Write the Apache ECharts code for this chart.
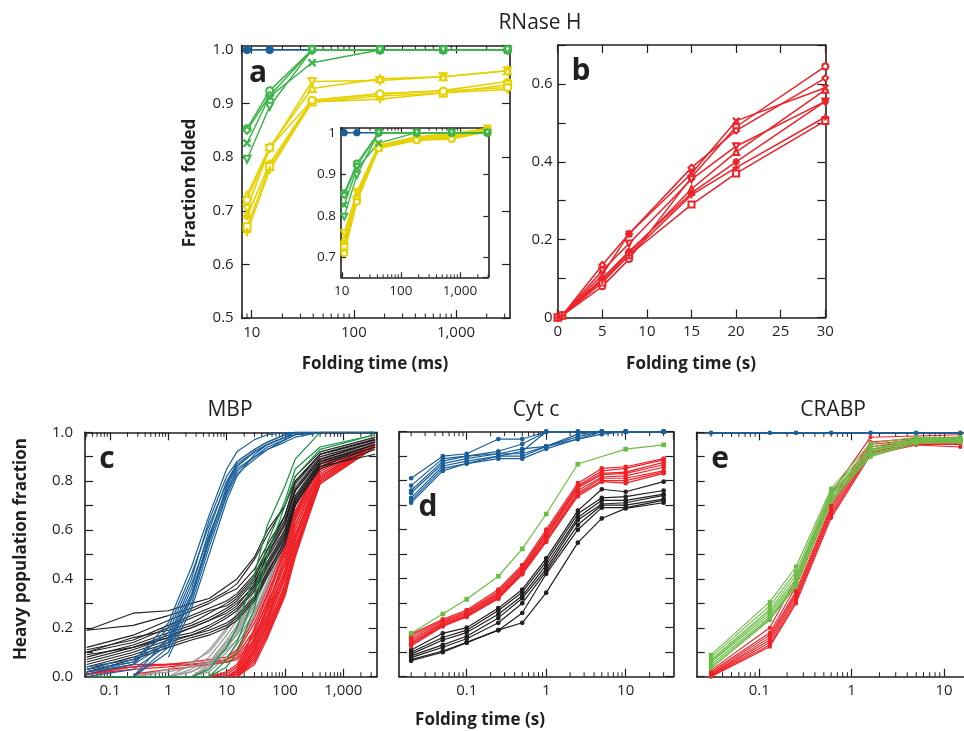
<!DOCTYPE html>
<html>
<head>
<meta charset="utf-8">
<script src="https://cdn.jsdelivr.net/npm/echarts@6/dist/echarts.min.js"></script>
<style>
  html, body { margin: 0; padding: 0; background: #fff; }
  #chart { width: 964px; height: 731px; }
</style>
</head>
<body>
<div id="chart"></div>
<script>
// ---- data ----
// a: RNase H, fraction folded vs folding time (ms)
const A_TIME = [9, 15, 39, 180, 750, 3200];
const A_BLUE = [[1, 1, 1, 1, 1, 1]];
const A_GREEN = [
  [0.853, 0.924, 1, 1, 1, 1],
  [0.850, 0.915, 1, 1, 1, 1],
  [0.826, 0.913, 0.976, 1, 1, 1],
  [0.796, 0.895, 1, 1, 1, 1]
];
const A_YELLOW = [
  [0.704, 0.816, 0.941, 0.943, 0.950, 0.961],
  [0.729, 0.819, 0.928, 0.946, 0.950, 0.961],
  [0.690, 0.788, 0.906, 0.918, 0.924, 0.941],
  [0.670, 0.782, 0.903, 0.914, 0.919, 0.935],
  [0.660, 0.776, 0.903, 0.908, 0.920, 0.926],
  [0.720, 0.818, 0.906, 0.918, 0.923, 0.930]
];
// a inset
const INSET_TIME = [11, 18, 42, 185, 720, 2900];
const INSET_BLUE = [[1, 1, 1, 1, 1, 1]];
const INSET_GREEN = [
  [0.854, 0.926, 1, 1, 1, 1],
  [0.850, 0.920, 1, 1, 1, 1],
  [0.826, 0.914, 0.975, 1, 1, 1],
  [0.798, 0.898, 1, 1, 1, 1]
];
const INSET_YELLOW = [
  [0.758, 0.858, 0.970, 0.990, 0.998, 1.010],
  [0.745, 0.852, 0.968, 0.988, 0.995, 1.008],
  [0.735, 0.846, 0.966, 0.985, 0.992, 1.005],
  [0.725, 0.840, 0.964, 0.984, 0.990, 1.004],
  [0.715, 0.836, 0.963, 0.983, 0.988, 1.003],
  [0.710, 0.834, 0.962, 0.982, 0.985, 1.002]
];
// b: RNase H, folding time (s)
const B_TIME = [0, 0.5, 5, 8, 15, 20, 30];
const B_RED = [
  [0, 0.005, 0.080, 0.150, 0.360, 0.490, 0.645],
  [0, 0.005, 0.135, 0.215, 0.385, 0.480, 0.615],
  [0, 0.005, 0.110, 0.215, 0.370, 0.505, 0.590],
  [0, 0.005, 0.120, 0.190, 0.355, 0.440, 0.555],
  [0, 0.005, 0.100, 0.165, 0.330, 0.425, 0.585],
  [0, 0.005, 0.100, 0.170, 0.320, 0.400, 0.555],
  [0, 0.005, 0.090, 0.160, 0.290, 0.370, 0.505],
  [0, 0.005, 0.095, 0.160, 0.315, 0.385, 0.515]
];
// c: MBP
const MBP_TIME = [0.04, 0.25, 1, 2.5, 5, 10, 15, 30, 50, 100, 150, 400, 3500];
const MBP_GRAY = [
  [null, 0, 0.03, 0.06, 0.10, 0.19, 0.25, 0.37, 0.49, 0.65, 0.77, 0.91, 0.98],
  [null, null, 0, 0.03, 0.08, 0.17, 0.23, 0.35, 0.47, 0.63, 0.76, 0.90, 0.98],
  [null, null, 0, 0.02, 0.06, 0.15, 0.21, 0.33, 0.45, 0.61, 0.74, 0.90, 0.97],
  [null, null, null, 0, 0.05, 0.14, 0.19, 0.31, 0.43, 0.60, 0.73, 0.89, 0.97],
  [null, null, null, 0, 0.04, 0.12, 0.17, 0.29, 0.41, 0.58, 0.72, 0.89, 0.97],
  [null, null, null, 0, 0.03, 0.10, 0.15, 0.27, 0.39, 0.57, 0.71, 0.88, 0.97],
  [null, 0, 0.02, 0.04, 0.06, 0.11, 0.15, 0.26, 0.38, 0.56, 0.70, 0.88, 0.96],
  [null, null, null, 0, 0.02, 0.08, 0.13, 0.25, 0.37, 0.55, 0.70, 0.87, 0.96],
  [null, null, 0, 0.05, 0.11, 0.20, 0.26, 0.38, 0.50, 0.66, 0.78, 0.91, 0.98],
  [null, null, null, 0, 0.04, 0.13, 0.20, 0.32, 0.44, 0.61, 0.74, 0.89, 0.97],
  [null, null, 0, 0.02, 0.05, 0.12, 0.18, 0.30, 0.42, 0.59, 0.73, 0.89, 0.97]
];
const MBP_RED = [
  [0.01, 0.04, 0.05, 0.05, 0.05, 0.06, 0.08, 0.17, 0.27, 0.43, 0.58, 0.82, 0.96],
  [0.02, 0.04, 0.05, 0.05, 0.06, 0.07, 0.09, 0.19, 0.30, 0.46, 0.62, 0.85, 0.97],
  [0.01, 0.03, 0.04, 0.05, 0.05, 0.06, 0.07, 0.15, 0.25, 0.41, 0.56, 0.81, 0.95],
  [null, 0.01, 0.03, 0.04, 0.05, 0.07, 0.10, 0.22, 0.34, 0.51, 0.66, 0.86, 0.97],
  [0.01, 0.05, 0.05, 0.06, 0.07, 0.08, 0.11, 0.24, 0.36, 0.54, 0.68, 0.87, 0.97],
  [null, null, null, null, 0, 0.02, 0.05, 0.18, 0.31, 0.52, 0.66, 0.88, 0.98],
  [null, null, null, null, 0, 0.01, 0.04, 0.16, 0.29, 0.48, 0.64, 0.85, 0.97],
  [null, null, null, null, null, 0, 0.02, 0.14, 0.27, 0.46, 0.62, 0.85, 0.97],
  [null, null, null, null, null, 0, 0.01, 0.12, 0.25, 0.44, 0.60, 0.84, 0.96],
  [null, null, null, null, null, 0, 0.01, 0.11, 0.23, 0.42, 0.58, 0.83, 0.96],
  [null, null, null, null, null, null, 0, 0.10, 0.22, 0.40, 0.56, 0.82, 0.95],
  [null, null, null, null, null, null, 0, 0.09, 0.20, 0.38, 0.54, 0.81, 0.95],
  [null, null, null, null, null, null, 0, 0.08, 0.19, 0.36, 0.52, 0.80, 0.94],
  [null, null, null, null, null, null, 0, 0.06, 0.18, 0.35, 0.50, 0.79, 0.94],
  [null, null, null, null, null, null, 0, 0.05, 0.16, 0.33, 0.49, 0.80, 0.95],
  [null, null, null, null, null, 0, 0.03, 0.15, 0.28, 0.50, 0.65, 0.87, 0.98],
  [null, null, null, null, null, 0, 0.02, 0.13, 0.24, 0.41, 0.57, 0.82, 0.95],
  [null, null, null, null, null, null, 0, 0.11, 0.21, 0.37, 0.53, 0.80, 0.94],
  [null, null, null, null, null, 0, 0.02, 0.20, 0.33, 0.53, 0.67, 0.88, 0.98],
  [null, null, null, null, null, null, 0, 0.07, 0.17, 0.34, 0.51, 0.79, 0.94]
];
const MBP_BLACK = [
  [0.19, 0.26, 0.27, 0.30, 0.32, 0.37, 0.40, 0.49, 0.60, 0.70, 0.80, 0.91, 0.97],
  [0.19, 0.21, 0.25, 0.28, 0.31, 0.35, 0.38, 0.48, 0.58, 0.70, 0.82, 0.92, 0.98],
  [0.12, 0.17, 0.23, 0.27, 0.30, 0.34, 0.36, 0.44, 0.54, 0.66, 0.79, 0.91, 0.97],
  [0.11, 0.15, 0.21, 0.25, 0.28, 0.31, 0.34, 0.42, 0.52, 0.64, 0.77, 0.90, 0.96],
  [0.10, 0.16, 0.19, 0.22, 0.26, 0.30, 0.33, 0.41, 0.50, 0.62, 0.76, 0.89, 0.96],
  [0.08, 0.13, 0.18, 0.21, 0.24, 0.28, 0.31, 0.39, 0.49, 0.60, 0.74, 0.88, 0.95],
  [0.07, 0.12, 0.16, 0.20, 0.23, 0.27, 0.30, 0.37, 0.47, 0.59, 0.73, 0.87, 0.95],
  [0.06, 0.11, 0.16, 0.18, 0.21, 0.25, 0.28, 0.36, 0.46, 0.58, 0.72, 0.86, 0.94],
  [0.05, 0.10, 0.15, 0.17, 0.20, 0.24, 0.27, 0.35, 0.45, 0.57, 0.71, 0.85, 0.93],
  [0.04, 0.09, 0.14, 0.17, 0.19, 0.22, 0.25, 0.33, 0.43, 0.55, 0.70, 0.86, 0.91],
  [0.03, 0.08, 0.13, 0.16, 0.18, 0.21, 0.24, 0.32, 0.42, 0.56, 0.72, 0.88, 0.95],
  [0.02, 0.07, 0.12, 0.15, 0.17, 0.20, 0.23, 0.31, 0.41, 0.54, 0.70, 0.87, 0.94],
  [0.10, 0.14, 0.20, 0.24, 0.27, 0.29, 0.32, 0.40, 0.52, 0.66, 0.80, 0.91, 0.97],
  [0.09, 0.12, 0.17, 0.20, 0.23, 0.26, 0.29, 0.38, 0.50, 0.63, 0.76, 0.89, 0.96]
];
const MBP_GREEN = [
  [0, 0, 0, 0, 0.03, 0.12, 0.20, 0.42, 0.62, 0.78, 0.89, 1.00, 1.00],
  [0, 0, 0, 0, 0, 0.07, 0.14, 0.33, 0.55, 0.72, 0.85, 0.94, 0.99],
  [0, 0, 0, 0, 0, 0.04, 0.10, 0.28, 0.50, 0.70, 0.82, 0.93, 0.99]
];
const MBP_BLUE = [
  [0.04, 0.07, 0.18, 0.40, 0.64, 0.82, 0.88, 0.93, 0.96, 0.99, 1.00, 1.00, 1.00],
  [0.03, 0.06, 0.15, 0.36, 0.60, 0.80, 0.87, 0.92, 0.95, 0.98, 1.00, 1.00, 1.00],
  [0.02, 0.05, 0.14, 0.34, 0.57, 0.77, 0.86, 0.92, 0.95, 0.98, 0.99, 1.00, 1.00],
  [null, 0, 0.12, 0.32, 0.55, 0.75, 0.85, 0.90, 0.94, 0.97, 0.99, 1.00, 1.00],
  [null, 0, 0.10, 0.30, 0.53, 0.74, 0.83, 0.89, 0.93, 0.97, 0.99, 1.00, 1.00],
  [null, null, 0.08, 0.28, 0.50, 0.72, 0.82, 0.91, 0.95, 0.98, 1.00, 1.00, 1.00],
  [0.01, 0.05, 0.20, 0.42, 0.62, 0.79, 0.86, 0.92, 0.95, 0.98, 1.00, 1.00, 1.00],
  [0.02, 0.06, 0.22, 0.45, 0.66, 0.85, 0.92, 0.97, 0.99, 1.00, 1.00, 1.00, 1.00],
  [null, 0, 0.16, 0.38, 0.58, 0.76, 0.84, 0.90, 0.93, 0.96, 0.98, 1.00, 1.00],
  [0, 0.03, 0.13, 0.33, 0.56, 0.78, 0.88, 0.93, 0.96, 0.99, 1.00, 1.00, 1.00]
];
// d: Cyt c
const CYT_TIME = [0.02, 0.05, 0.1, 0.25, 0.5, 1, 2.5, 5, 10, 30];
const CYT_BLUE = [
  [0.81, 0.90, 0.91, 0.97, 0.97, 1.00, 1.00, 1.00, 1.00, 1.00],
  [0.78, 0.89, 0.90, 0.92, 0.95, 1.00, 1.00, 1.00, 1.00, 1.00],
  [0.76, 0.88, 0.90, 0.91, 0.93, 0.94, 0.99, 1.00, 1.00, 1.00],
  [0.75, 0.87, 0.89, 0.91, 0.91, 0.94, 0.98, 1.00, 1.00, 1.00],
  [0.73, 0.86, 0.88, 0.90, 0.90, 0.94, 0.97, 1.00, 1.00, 1.00],
  [0.72, 0.85, 0.87, 0.89, 0.89, 0.93, 0.97, 0.99, 1.00, 1.00],
  [0.71, 0.84, 0.87, 0.90, 0.92, 1.00, 1.00, 1.00, 1.00, 1.00]
];
const CYT_GREEN = [[0.177, 0.256, 0.316, 0.410, 0.522, 0.664, 0.868, null, 0.929, 0.946]];
const CYT_RED = [
  [0.174, 0.234, 0.272, 0.356, 0.456, 0.600, 0.790, 0.850, 0.857, 0.890],
  [0.168, 0.228, 0.266, 0.348, 0.448, 0.590, 0.780, 0.840, 0.850, 0.885],
  [0.160, 0.222, 0.262, 0.342, 0.442, 0.585, 0.775, 0.830, 0.835, 0.875],
  [0.152, 0.218, 0.258, 0.336, 0.436, 0.575, 0.770, 0.825, 0.830, 0.865],
  [0.145, 0.214, 0.253, 0.330, 0.430, 0.570, 0.760, 0.815, 0.820, 0.855],
  [0.138, 0.210, 0.250, 0.325, 0.425, 0.560, 0.750, 0.810, 0.810, 0.840],
  [0.132, 0.208, 0.247, 0.322, 0.422, 0.555, 0.745, 0.800, 0.800, 0.835],
  [0.125, 0.205, 0.244, 0.318, 0.418, 0.550, 0.737, 0.796, 0.790, 0.830]
];
const CYT_BLACK = [
  [0.109, 0.177, 0.200, 0.280, 0.356, 0.483, 0.678, 0.765, 0.755, 0.796],
  [0.100, 0.160, 0.190, 0.270, 0.345, 0.470, 0.665, 0.730, 0.735, 0.760],
  [0.092, 0.150, 0.180, 0.255, 0.330, 0.455, 0.650, 0.720, 0.720, 0.745],
  [0.085, 0.130, 0.165, 0.240, 0.320, 0.440, 0.640, 0.705, 0.710, 0.740],
  [0.078, 0.120, 0.155, 0.220, 0.300, 0.430, 0.620, 0.700, 0.700, 0.725],
  [0.070, 0.105, 0.140, 0.190, 0.260, 0.420, 0.600, 0.690, 0.690, 0.720],
  [0.065, 0.100, 0.139, 0.190, 0.220, 0.343, 0.547, 0.646, 0.687, 0.710]
];
// e: CRABP
const CRABP_TIME = [0.03, 0.13, 0.25, 0.6, 1.6, 5, 15];
const CRABP_BLUE = [[0.998, 0.998, 0.998, 0.998, 0.998, 0.998, 0.998]];
const CRABP_RED = [
  [0.027, 0.200, 0.400, 0.750, 0.980, 0.985, 0.990],
  [0.020, 0.180, 0.370, 0.720, 0.960, 0.975, 0.980],
  [0.015, 0.170, 0.350, 0.700, 0.950, 0.970, 0.970],
  [0.010, 0.160, 0.340, 0.690, 0.940, 0.965, 0.965],
  [0.008, 0.150, 0.330, 0.680, 0.930, 0.960, 0.960],
  [0.005, 0.140, 0.320, 0.670, 0.920, 0.955, 0.955],
  [0.003, 0.130, 0.310, 0.660, 0.915, 0.950, 0.950],
  [0.000, 0.123, 0.300, 0.650, 0.907, 0.948, 0.940]
];
const CRABP_GREEN = [
  [0.089, 0.306, 0.450, 0.770, 0.955, 0.980, 0.980],
  [0.080, 0.290, 0.430, 0.760, 0.940, 0.975, 0.975],
  [0.070, 0.275, 0.415, 0.750, 0.930, 0.970, 0.970],
  [0.065, 0.265, 0.400, 0.745, 0.925, 0.970, 0.965],
  [0.060, 0.255, 0.390, 0.740, 0.920, 0.965, 0.965],
  [0.050, 0.245, 0.380, 0.730, 0.910, 0.960, 0.960],
  [0.040, 0.238, 0.375, 0.725, 0.905, 0.960, 0.965],
  [0.034, 0.232, 0.370, 0.716, 0.900, 0.955, 0.960]
];

// ---- look ----
const FONT = '"Open Sans", "Noto Sans", sans-serif';
const INK = '#231f20';
const BLUE = '#1b5f99';
const GREEN = '#3db54a';
const DKGREEN = '#13953f';
const LTGREEN = '#6cbd45';
const YELLOW = '#e6d200';
const RED = '#ee2228';
const GRAY = '#999999';

// grid index: 0 a, 1 inset, 2 b, 3 c, 4 d, 5 e
const GRIDS = [
  { left: 241.7, top: 45.6, width: 268.3, height: 272.4 },
  { left: 341, top: 127.7, width: 147.3, height: 149.6 },
  { left: 557.7, top: 45, width: 267.6, height: 272.5 },
  { left: 85, top: 432.3, width: 291.7, height: 244.4 },
  { left: 399, top: 431.7, width: 274.3, height: 245 },
  { left: 696.7, top: 432.3, width: 290, height: 244.4 }
];
const X_RANGE = [[7.98, 3380], [9.7, 3008], [0, 30], [0.0373, 3737], [0.01407, 39.7], [0.021, 29]];
const Y_RANGE = [[0.5, 1.008], [0.652, 1.012], [0, 0.7], [0, 1], [0, 1], [0, 1]];
const LOG_GRIDS = [0, 1, 3, 4, 5];

const SYM_X = 'path://M0,1L1,0L5,4L9,0L10,1L6,5L10,9L9,10L5,6L1,10L0,9L4,5Z';
const SYM_PLUS = 'path://M4.3,0H5.7V4.3H10V5.7H5.7V10H4.3V5.7H0V4.3H4.3Z';
const SYM_STAR = 'path://M4.4,0H5.6V3.6L8.1,1.1L8.9,1.9L6.4,4.4H10V5.6H6.4L8.9,8.1L8.1,8.9L5.6,6.4V10H4.4V6.4L1.9,8.9L1.1,8.1L3.6,5.6H0V4.4H3.6L1.1,1.9L1.9,1.1L4.4,3.6Z';
const MARKS = [
  { s: 'emptyCircle' }, { s: 'emptyDiamond' }, { s: SYM_X }, { s: 'emptyTriangle', r: 180 },
  { s: 'emptyTriangle' }, { s: SYM_STAR }, { s: 'emptyRect' }, { s: SYM_PLUS }
];

function fmtLog(v) {
  const s = String(parseFloat(v.toPrecision(6)));
  return s.replace(/\B(?=(\d{3})+(?!\d))/g, ',');
}

// axes: for each grid a bottom + top x axis, a left + right y axis
const xAxes = [], yAxes = [];
const lineSt = { color: INK, width: 1.6 };
GRIDS.forEach((g, gi) => {
  const isLog = LOG_GRIDS.indexOf(gi) >= 0;
  const small = gi === 1;
  [0, 1].forEach(side => {
    const ax = {
      gridIndex: gi,
      type: isLog ? 'log' : 'value',
      min: X_RANGE[gi][0], max: X_RANGE[gi][1],
      position: side ? 'top' : 'bottom',
      axisLine: { show: true, onZero: false, lineStyle: lineSt },
      axisTick: { show: true, inside: true, length: small ? 5 : 8, lineStyle: { color: INK, width: 1.2 } },
      splitLine: { show: false },
      axisLabel: {
        show: !side, color: INK, fontFamily: FONT, fontSize: small ? 13.5 : 15, margin: 7,
        showMinLabel: gi === 2, showMaxLabel: gi === 2,
        formatter: isLog ? fmtLog : (v => String(v))
      }
    };
    if (isLog) ax.logBase = 10;
    if (gi === 2) ax.interval = 5;
    xAxes.push(ax);
  });
  [0, 1].forEach(side => {
    const yLabels = (gi <= 3) && !side;
    const ay = {
      gridIndex: gi,
      type: 'value',
      min: Y_RANGE[gi][0], max: Y_RANGE[gi][1],
      position: side ? 'right' : 'left',
      axisLine: { show: !(gi === 5 && side), onZero: false, lineStyle: lineSt },
      axisTick: { show: true, inside: true, length: small ? 5 : 8, lineStyle: { color: INK, width: 1.2 } },
      splitLine: { show: false },
      axisLabel: {
        show: yLabels, color: INK, fontFamily: FONT, fontSize: small ? 13.5 : 15,
        margin: gi === 3 ? 12 : (gi === 0 ? 8 : 5),
        showMinLabel: gi !== 1, showMaxLabel: gi >= 2,
        formatter: v => {
          if (gi === 1) return v === 1 ? '1' : v.toFixed(1);
          if (gi === 2) return Math.round(v * 10) % 2 === 0 ? (v === 0 ? '0' : v.toFixed(1)) : '';
          if (gi === 3) return Math.round(v * 10) % 2 === 0 ? v.toFixed(1) : '';
          return v.toFixed(1);
        }
      }
    };
    if (gi !== 1) ay.interval = 0.1;
    else ay.splitNumber = 4;
    yAxes.push(ay);
  });
});

// series
const series = [];
function addLines(gi, xs, rows, color, o) {
  rows.forEach((row, k) => {
    const m = o.marks ? o.marks[(k + (o.shift || 0)) % o.marks.length] : null;
    series.push({
      type: 'line',
      xAxisIndex: gi * 2, yAxisIndex: gi * 2,
      data: xs.map((x, i) => [x, row[i] === null ? '-' : row[i]]),
      connectNulls: !!o.connect,
      showSymbol: !!(m || o.dot),
      symbol: m ? m.s : (o.dot || 'circle'),
      symbolRotate: (m && m.r) || 0,
      symbolSize: o.size || 6,
      lineStyle: { color: color, width: o.width || 1 },
      itemStyle: { color: color, borderColor: color, borderWidth: 1.2 },
      emphasis: { disabled: true },
      silent: true,
      animation: false
    });
  });
}
const FILLED = [{ s: 'circle' }];
addLines(0, A_TIME, A_BLUE, BLUE, { marks: FILLED, size: 7, width: 1.8 });
addLines(0, A_TIME, A_YELLOW, YELLOW, { marks: MARKS, size: 7, width: 1.6, shift: 3 });
addLines(0, A_TIME, A_GREEN, GREEN, { marks: MARKS, size: 7, width: 1.5 });
addLines(1, INSET_TIME, INSET_BLUE, BLUE, { marks: FILLED, size: 6, width: 1.6 });
addLines(1, INSET_TIME, INSET_YELLOW, YELLOW, { marks: MARKS, size: 6, width: 1.5, shift: 3 });
addLines(1, INSET_TIME, INSET_GREEN, GREEN, { marks: MARKS, size: 6, width: 1.4 });
addLines(2, B_TIME, B_RED, RED, { marks: MARKS, size: 6, width: 1.5 });
addLines(3, MBP_TIME, MBP_RED, RED, { width: 1.4 });
addLines(3, MBP_TIME, MBP_GRAY, GRAY, { width: 1.2 });
addLines(3, MBP_TIME, MBP_BLACK, INK, { width: 1.1 });
addLines(3, MBP_TIME, MBP_GREEN, DKGREEN, { width: 1.2 });
addLines(3, MBP_TIME, MBP_BLUE, BLUE, { width: 1.2 });
addLines(4, CYT_TIME, CYT_BLACK, INK, { dot: 'circle', size: 3.5, width: 1.2 });
addLines(4, CYT_TIME, CYT_RED, RED, { dot: 'circle', size: 3.5, width: 1.2 });
addLines(4, CYT_TIME, CYT_GREEN, LTGREEN, { dot: 'rect', size: 3.5, width: 1.2, connect: true });
addLines(4, CYT_TIME, CYT_BLUE, BLUE, { dot: 'circle', size: 3.5, width: 1.2 });
addLines(5, CRABP_TIME, CRABP_RED, RED, { dot: 'circle', size: 3, width: 1.1 });
addLines(5, CRABP_TIME, CRABP_GREEN, LTGREEN, { dot: 'rect', size: 3, width: 1.1 });
addLines(5, CRABP_TIME, CRABP_BLUE, BLUE, { dot: 'circle', size: 3.5, width: 1.8 });

const option = {
  backgroundColor: '#fff',
  animation: false,
  grid: GRIDS.map(g => Object.assign({ show: false, containLabel: false, outerBoundsMode: 'none' }, g)),
  xAxis: xAxes,
  yAxis: yAxes,
  series: series
};

const chart = echarts.init(document.getElementById('chart'));
chart.setOption(option);

// texts: panel titles, letters, axis titles
const TEXTS = [
  { t: 'RNase H', x: 540, y: 23, size: 21 },
  { t: 'MBP', x: 230, y: 410, size: 21 },
  { t: 'Cyt c', x: 536, y: 410, size: 21 },
  { t: 'CRABP', x: 833, y: 410, size: 21 },
  { t: 'a', x: 258, y: 73, size: 30, bold: true },
  { t: 'b', x: 581, y: 71, size: 30, bold: true },
  { t: 'c', x: 107, y: 459, size: 30, bold: true },
  { t: 'd', x: 428, y: 507, size: 30, bold: true },
  { t: 'e', x: 720, y: 459, size: 30, bold: true },
  { t: 'Folding time (ms)', x: 375, y: 364, size: 17, bold: true },
  { t: 'Folding time (s)', x: 691, y: 364, size: 17, bold: true },
  { t: 'Folding time (s)', x: 480, y: 720, size: 17, bold: true },
  { t: 'Fraction folded', x: 190, y: 183, size: 17, bold: true, rot: true },
  { t: 'Heavy population fraction', x: 21, y: 549, size: 17, bold: true, rot: true }
];
const graphic = TEXTS.map(d => ({
  type: 'text', x: d.x, y: d.y, rotation: d.rot ? Math.PI / 2 : 0, silent: true,
  style: {
    text: d.t, fill: INK, align: 'center', verticalAlign: 'middle',
    font: (d.bold ? 'bold ' : '') + d.size + 'px ' + FONT
  }
}));

// minor ticks on the log axes, placed through the axis scale
LOG_GRIDS.forEach(gi => {
  const lo = X_RANGE[gi][0], hi = X_RANGE[gi][1];
  const r = GRIDS[gi];
  const len = gi === 1 ? 3 : 4.5;
  for (let k = Math.floor(Math.log10(lo)); k <= Math.ceil(Math.log10(hi)); k++) {
    for (let m = 2; m <= 9; m++) {
      const v = m * Math.pow(10, k);
      if (v <= lo || v >= hi) continue;
      const px = chart.convertToPixel({ xAxisIndex: gi * 2 }, v);
      if (px > 964) continue;
      [[r.top + r.height, -len], [r.top, len]].forEach(([y0, d]) => {
        graphic.push({
          type: 'line', silent: true,
          shape: { x1: px, y1: y0, x2: px, y2: y0 + d },
          style: { stroke: INK, lineWidth: 1 }
        });
      });
    }
  }
});
chart.setOption({ graphic: graphic });
</script>
</body>
</html>
